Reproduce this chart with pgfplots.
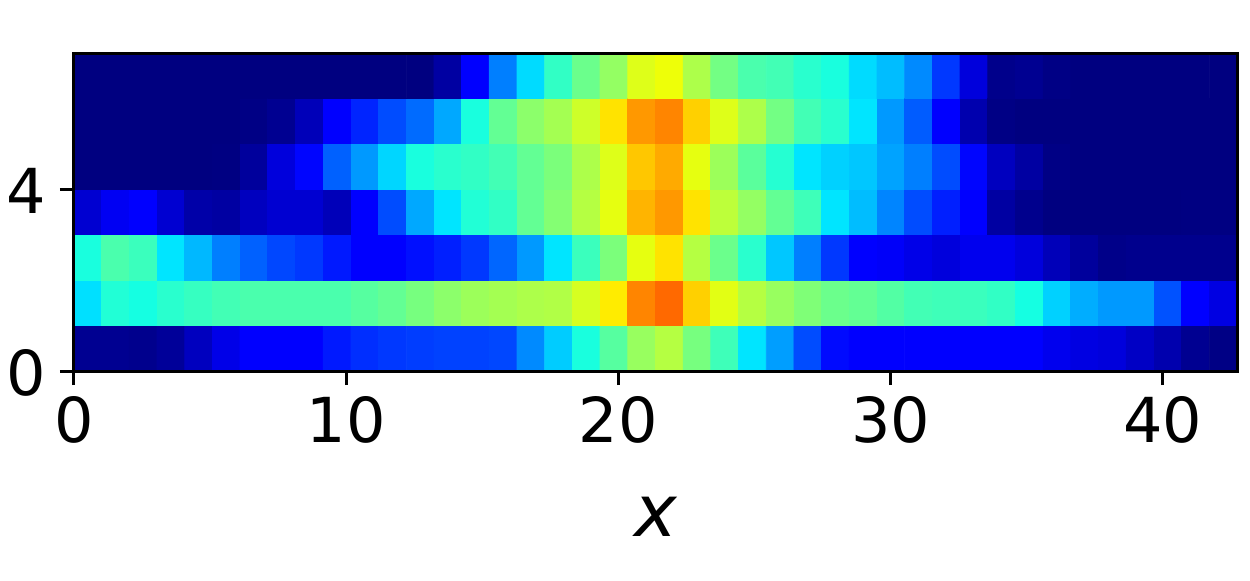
\documentclass[border=0pt]{standalone}
\usepackage{fontspec}
\setmainfont{DejaVu Sans}
\usepackage{pgfplots}
\pgfplotsset{compat=1.18}

% colours as in matplotlib's jet
\pgfplotsset{colormap={mpljet}{
  rgb(0pt)=(0,0,.5) rgb(110pt)=(0,0,1) rgb(125pt)=(0,0,1) rgb(340pt)=(0,.86,1)
  rgb(350pt)=(0,.9,1) rgb(375pt)=(.081,1,.887) rgb(640pt)=(.935,1,.032)
  rgb(650pt)=(.968,.963,0) rgb(660pt)=(1,.926,0) rgb(890pt)=(1,.078,0)
  rgb(910pt)=(.909,0,0) rgb(1000pt)=(.5,0,0)}}

\begin{document}
\begin{tikzpicture}
\path[use as bounding box] (-37pt,-104.5pt) rectangle (588pt,185.5pt);
\begin{axis}[
  at={(0,0)}, anchor=south west,
  scale only axis,
  width=581.5pt, height=159pt,
  xmin=0, xmax=42.73, ymin=0, ymax=7,
  xtick={0,10,20,30,40}, ytick={0,4},
  tick align=outside, tick pos=left,
  major tick length=7pt,
  every tick/.style={black, line width=1.5pt},
  axis line style={line width=1.5pt},
  axis on top,
  colormap name=mpljet,
  point meta min=0, point meta max=1,
  tick label style={font=\fontsize{31}{31}\selectfont},
  xticklabel style={yshift=-2pt},
  yticklabel style={xshift=-3.5pt, yshift=-1pt},
  /pgf/number format/assume math mode=true,
  xlabel={\fontsize{36}{36}\selectfont\itshape x},
  xlabel style={yshift=-20pt},
]
\addplot[matrix plot*, mesh/cols=42, mesh/ordering=x varies, point meta=explicit]
  table[row sep=\\, header=false,
        x expr={(mod(\coordindex,42)+0.5)*1.01738},
        y expr={floor((\coordindex+0.5)/42)+0.5},
        meta index=0] {
.015\\.015\\.012\\.022\\.055\\.09\\.115\\.115\\.11\\.15\\.17\\.18\\.185\\.19\\.19\\.195\\.26\\.325\\.38\\.455\\.535\\.57\\.495\\.425\\.35\\.28\\.2\\.135\\.115\\.115\\.115\\.115\\.115\\.115\\.115\\.095\\.085\\.08\\.06\\.04\\.015\\.005\\
.345\\.39\\.375\\.4\\.415\\.43\\.44\\.44\\.44\\.44\\.455\\.47\\.495\\.52\\.54\\.55\\.56\\.565\\.61\\.66\\.77\\.8\\.69\\.625\\.57\\.535\\.505\\.48\\.47\\.45\\.43\\.425\\.42\\.41\\.375\\.33\\.295\\.275\\.275\\.205\\.125\\.085\\
.38\\.44\\.42\\.35\\.305\\.25\\.22\\.195\\.18\\.15\\.125\\.115\\.14\\.155\\.18\\.225\\.275\\.35\\.42\\.5\\.63\\.67\\.57\\.48\\.4\\.32\\.25\\.18\\.125\\.105\\.09\\.08\\.095\\.095\\.08\\.05\\.025\\.008\\.012\\.012\\.012\\.012\\
.07\\.1\\.115\\.07\\.035\\.03\\.055\\.07\\.07\\.05\\.115\\.2\\.29\\.35\\.39\\.41\\.47\\.51\\.57\\.63\\.72\\.75\\.67\\.58\\.53\\.47\\.425\\.35\\.31\\.255\\.2\\.155\\.115\\.03\\.012\\0\\0\\0\\0\\0\\.002\\.002\\
0\\0\\0\\0\\0\\.002\\.025\\.08\\.13\\.22\\.275\\.335\\.38\\.4\\.41\\.43\\.47\\.5\\.56\\.62\\.7\\.73\\.63\\.54\\.46\\.395\\.35\\.33\\.32\\.285\\.25\\.2\\.13\\.055\\.03\\.005\\0\\0\\0\\0\\0\\0\\
0\\0\\0\\0\\0\\0\\.005\\.015\\.05\\.115\\.16\\.2\\.23\\.29\\.38\\.47\\.52\\.55\\.6\\.67\\.75\\.77\\.69\\.62\\.56\\.49\\.43\\.4\\.35\\.275\\.215\\.115\\.04\\.005\\0\\0\\0\\0\\0\\0\\0\\0\\
0\\0\\0\\0\\0\\0\\0\\0\\0\\0\\0\\0\\0\\.03\\.115\\.25\\.34\\.41\\.48\\.53\\.62\\.64\\.56\\.49\\.44\\.43\\.4\\.38\\.34\\.31\\.26\\.18\\.08\\.01\\.015\\.005\\0\\0\\0\\0\\0\\0\\
};
\end{axis}
\end{tikzpicture}
\end{document}
